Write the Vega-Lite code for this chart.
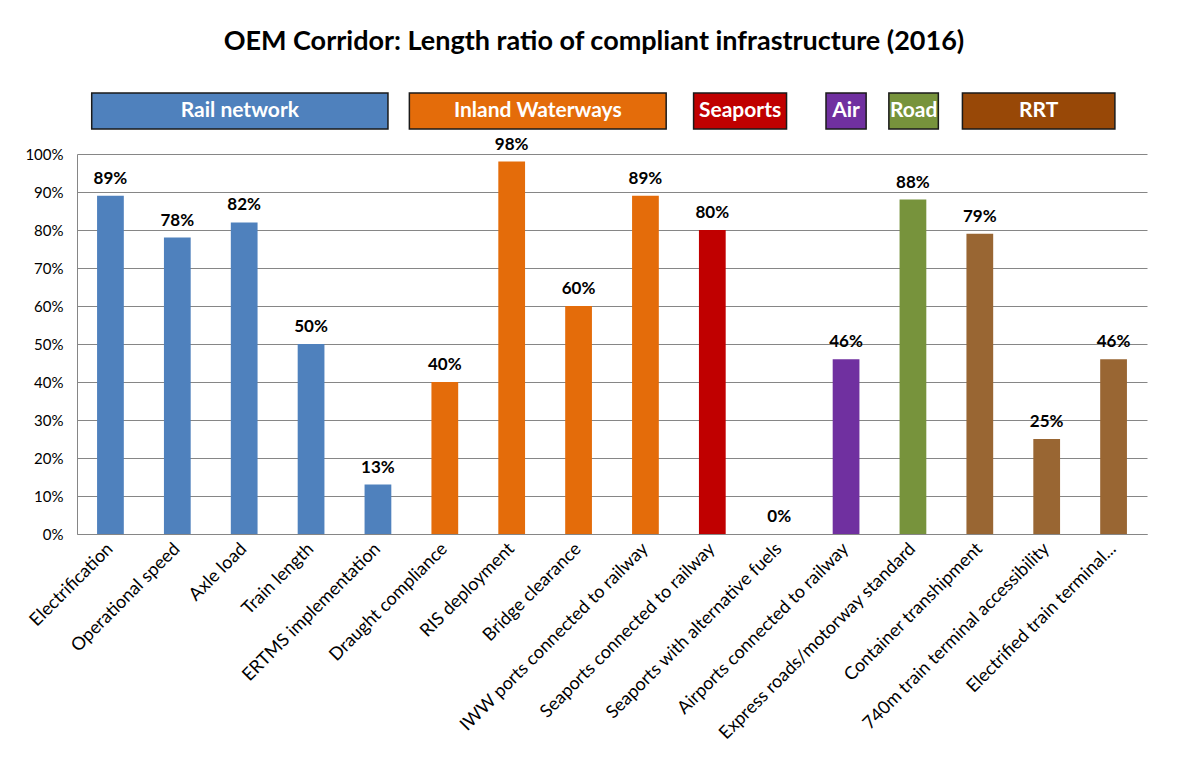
{
  "$schema": "https://vega.github.io/schema/vega-lite/v6.json",
  "background": "white",
  "padding": {"left": 24, "top": 28, "right": 30, "bottom": 5},
  "title": {
    "text": "OEM Corridor: Length ratio of compliant infrastructure (2016)",
    "font": "Lato", "fontSize": 27, "fontWeight": "bold", "color": "#000000",
    "anchor": "middle", "frame": "bounds", "offset": 36, "dx": 8
  },
  "config": {
    "font": "Lato",
    "view": {"stroke": null},
    "concat": {"spacing": 5}
  },
  "datasets": {
    "groups": [
      {"group": "Rail network", "start": 0.22, "end": 4.65},
      {"group": "Inland Waterways", "start": 4.97, "end": 8.81},
      {"group": "Seaports", "start": 9.22, "end": 10.61},
      {"group": "Air", "start": 11.2, "end": 11.8},
      {"group": "Road", "start": 12.14, "end": 12.88},
      {"group": "RRT", "start": 13.24, "end": 15.52}
    ],
    "bars": [
      {"indicator": "Electrification", "ratio": 0.89, "mode": "Rail"},
      {"indicator": "Operational speed", "ratio": 0.78, "mode": "Rail"},
      {"indicator": "Axle load", "ratio": 0.82, "mode": "Rail"},
      {"indicator": "Train length", "ratio": 0.50, "mode": "Rail"},
      {"indicator": "ERTMS implementation", "ratio": 0.13, "mode": "Rail"},
      {"indicator": "Draught compliance", "ratio": 0.40, "mode": "Inland"},
      {"indicator": "RIS deployment", "ratio": 0.98, "mode": "Inland"},
      {"indicator": "Bridge clearance", "ratio": 0.60, "mode": "Inland"},
      {"indicator": "IWW ports connected to railway", "ratio": 0.89, "mode": "Inland"},
      {"indicator": "Seaports connected to railway", "ratio": 0.80, "mode": "Seaports"},
      {"indicator": "Seaports with alternative fuels", "ratio": 0.0, "mode": "Seaports"},
      {"indicator": "Airports connected to railway", "ratio": 0.46, "mode": "Air"},
      {"indicator": "Express roads/motorway standard", "ratio": 0.88, "mode": "Road"},
      {"indicator": "Container transhipment", "ratio": 0.79, "mode": "RRT"},
      {"indicator": "740m train terminal accessibility", "ratio": 0.25, "mode": "RRT"},
      {"indicator": "Electrified train terminal...", "ratio": 0.46, "mode": "RRT"}
    ]
  },
  "resolve": {"scale": {"color": "independent", "x": "independent"}},
  "vconcat": [
    {
      "width": 1070,
      "height": 36,
      "data": {"name": "groups"},
      "transform": [{"calculate": "(datum.start + datum.end) / 2", "as": "mid"}],
      "layer": [
        {
          "mark": {"type": "rect", "stroke": "#1a1a1a", "strokeWidth": 1.5},
          "encoding": {
            "x": {"field": "start", "type": "quantitative", "scale": {"domain": [0, 16], "nice": false, "zero": false}, "axis": null},
            "x2": {"field": "end"},
            "color": {
              "field": "group", "type": "nominal", "legend": null,
              "scale": {
                "domain": ["Rail network", "Inland Waterways", "Seaports", "Air", "Road", "RRT"],
                "range": ["#4F81BD", "#E46C0A", "#C00000", "#7030A0", "#77933C", "#984807"]
              }
            }
          }
        },
        {
          "mark": {"type": "text", "color": "white", "fontWeight": "bold", "fontSize": 21, "baseline": "middle", "align": "center"},
          "encoding": {
            "x": {"field": "mid", "type": "quantitative", "scale": {"domain": [0, 16], "nice": false, "zero": false}, "axis": null},
            "text": {"field": "group"}
          }
        }
      ]
    },
    {
      "width": 1070,
      "height": 380,
      "data": {"name": "bars"},
      "encoding": {
        "x": {
          "field": "indicator", "type": "nominal", "sort": null,
          "scale": {"paddingInner": 0.6, "paddingOuter": 0.3},
          "axis": {
            "title": null, "labelAngle": -45, "labelAlign": "right", "labelBaseline": "middle",
            "labelFontSize": 18, "labelColor": "#000000", "labelPadding": 12, "labelLimit": 400,
            "ticks": false, "domainColor": "#868686", "domainWidth": 1
          }
        },
        "y": {
          "field": "ratio", "type": "quantitative",
          "scale": {"domain": [0, 1], "nice": false},
          "axis": {
            "title": null, "format": ".0%", "values": [0, 0.1, 0.2, 0.3, 0.4, 0.5, 0.6, 0.7, 0.8, 0.9, 1],
            "labelOverlap": false,
            "labelFontSize": 15, "labelColor": "#000000", "labelPadding": 14,
            "ticks": false, "domainColor": "#868686", "gridColor": "#868686", "gridWidth": 1
          }
        }
      },
      "layer": [
        {
          "mark": {"type": "bar"},
          "encoding": {
            "color": {
              "field": "mode", "type": "nominal", "legend": null,
              "scale": {
                "domain": ["Rail", "Inland", "Seaports", "Air", "Road", "RRT"],
                "range": ["#4F81BD", "#E46C0A", "#C00000", "#7030A0", "#77933C", "#996633"]
              }
            }
          }
        },
        {
          "mark": {"type": "text", "fontWeight": "bold", "fontSize": 17, "baseline": "bottom", "dy": -8, "color": "#000000"},
          "encoding": {
            "text": {"field": "ratio", "type": "quantitative", "format": ".0%"}
          }
        }
      ]
    }
  ]
}
